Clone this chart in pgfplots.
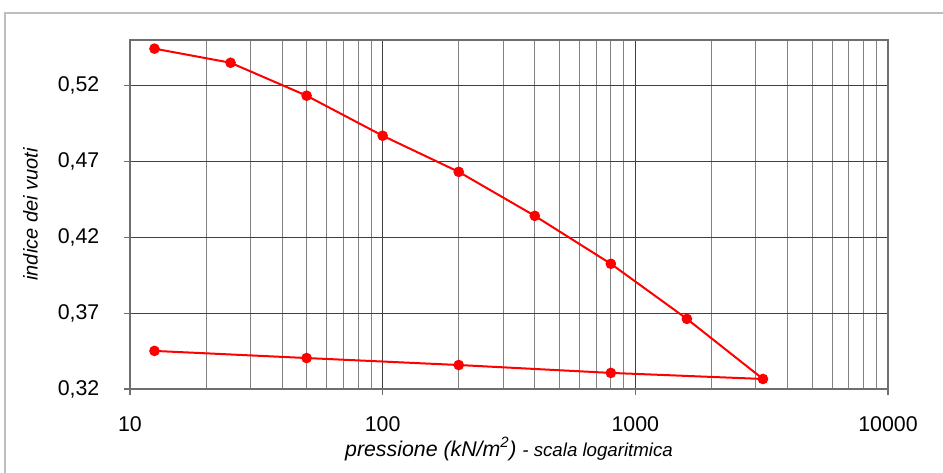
\documentclass[border=0pt]{standalone}
\usepackage{pgfplots}
\pgfplotsset{compat=1.18}
\usepackage{fontspec}
\setmainfont{Liberation Sans}
\definecolor{framegray}{RGB}{190,190,190}
\definecolor{gridgray}{RGB}{130,130,130}
\definecolor{axgray}{RGB}{110,110,110}
\begin{document}
\begin{tikzpicture}[x=0.75pt,y=0.75pt]
\useasboundingbox (0,0) rectangle (943,473);
\draw[framegray,line width=1.2pt] (5,0) -- (5,460) -- (943,460);
\begin{axis}[
  at={(130*0.75pt,84*0.75pt)},
  anchor=south west,
  scale only axis,
  width=568.5pt, height=261.75pt,
  xmode=log, log basis x=10,
  xmin=10, xmax=10000,
  ymin=0.32, ymax=0.55,
  xtick={10,100,1000,10000},
  xticklabels={10,100,1000,10000},
  minor xtick={20,30,40,50,60,70,80,90,200,300,400,500,600,700,800,900,2000,3000,4000,5000,6000,7000,8000,9000},
  ytick={0.32,0.37,0.42,0.47,0.52},
  yticklabels={{0,32},{0,37},{0,42},{0,47},{0,52}},
  tick pos=left,
  tick align=outside,
  major tick length=4.5pt,
  minor tick length=0pt,
  tick style={axgray,line width=0.8pt},
  xmajorgrids=true, xminorgrids=true, ymajorgrids=true,
  major grid style={black!75,line width=0.7pt},
  minor grid style={gridgray,line width=0.6pt},
  axis line style={axgray,line width=1.2pt},
  ticklabel style={font=\fontsize{16}{18}\selectfont},
  xticklabel style={yshift=-13pt},
  yticklabel style={xshift=-15pt},
  xlabel={\fontsize{16}{18}\selectfont\itshape pressione (kN/m\textsuperscript{2}) \fontsize{14}{16}\selectfont - scala logaritmica},
  ylabel={\fontsize{15}{17}\selectfont\itshape indice dei vuoti},
  xlabel style={yshift=3pt},
  ylabel style={yshift=8pt},
]
\addplot[red, line width=1.5pt, mark=*, mark size=3.2pt, mark options={fill=red}] coordinates {
  (12.5,0.5443) (25,0.5350) (50,0.5133) (100,0.4869) (200,0.4631)
  (400,0.4341) (800,0.4025) (1600,0.3662) (3200,0.3266)
  (800,0.3306) (200,0.3358) (50,0.3404) (12.5,0.3451)
};
\end{axis}
\end{tikzpicture}
\end{document}
